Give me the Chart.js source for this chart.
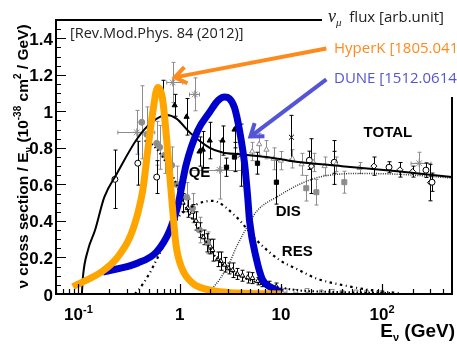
<!DOCTYPE html>
<html>
<head>
<meta charset="utf-8">
<script src="https://cdn.jsdelivr.net/npm/chart.js@4.4.1/dist/chart.umd.min.js"></script>
<style>
  html, body { margin: 0; padding: 0; background: #fff; }
</style>
</head>
<body>
<canvas id="xsec-chart" width="457" height="344"></canvas>
<script>
// axis ranges and ticks
var xMin = 0.06, xMax = 490;
var yMin = 0, yMax = 1.5;
var yTickVals = [0, 0.2, 0.4, 0.6, 0.8, 1, 1.2, 1.4];
var yTickText = ['0', '0.2', '0.4', '0.6', '0.8', '1', '1.2', '1.4'];
var xTickVals = [0.1, 1, 10, 100];
var xTickBase = ['10', '1', '10', '10'];
var xTickExp = ['-1', '', '', '2'];

// theory curves (E in GeV, sigma/E in 1e-38 cm^2/GeV)
var totalE = [0.108, 0.111, 0.124, 0.146, 0.18, 0.24, 0.38, 0.53, 0.74, 0.93, 1.25, 1.98, 2.65, 3.9, 7.2, 12, 40, 150, 490];
var totalY = [0, 0.10, 0.24, 0.35, 0.53, 0.66, 0.85, 0.94, 0.98, 0.96, 0.885, 0.80, 0.775, 0.765, 0.75, 0.73, 0.70, 0.67, 0.64];
var qeE = [0.45, 0.5, 0.64, 0.8, 0.93, 1.07, 1.3, 1.57, 2.21, 3.0, 3.9, 6.1, 10, 15, 30, 60, 120];
var qeY = [0.84, 0.83, 0.77, 0.68, 0.60, 0.51, 0.42, 0.35, 0.21, 0.14, 0.10, 0.06, 0.035, 0.02, 0.012, 0.008, 0.005];
var resE = [0.36, 0.39, 0.5, 0.607, 0.956, 1.41, 2.11, 3.65, 5.74, 9.7, 15.2, 22.4, 44, 93, 150];
var resY = [0, 0.02, 0.11, 0.20, 0.415, 0.486, 0.51, 0.42, 0.295, 0.186, 0.13, 0.085, 0.045, 0.015, 0.005];
var disE = [1.95, 2.48, 3.1, 3.65, 4.9, 5.7, 9.7, 15.2, 24, 59, 150, 490];
var disY = [0.01, 0.08, 0.17, 0.26, 0.39, 0.45, 0.54, 0.60, 0.64, 0.66, 0.655, 0.635];

// flux shapes (arb. units)
var hkE = [0.088, 0.174, 0.24, 0.322, 0.386, 0.432, 0.484, 0.542, 0.607, 0.68, 0.76, 0.845, 0.92, 1.05, 1.34, 1.97, 3.65, 10.3];
var hkY = [0.04, 0.126, 0.197, 0.311, 0.443, 0.568, 0.787, 0.995, 1.131, 1.06, 0.787, 0.486, 0.268, 0.142, 0.06, 0.022, 0.005, 0];
var duneE = [0.174, 0.386, 0.59, 0.80, 0.956, 1.16, 1.51, 1.98, 2.4, 2.78, 3.1, 3.48, 3.9, 4.37, 4.7, 4.9, 5.74, 6.57, 8.2, 10.3];
var duneY = [0.12, 0.17, 0.23, 0.35, 0.48, 0.71, 0.896, 0.996, 1.06, 1.078, 1.07, 1.02, 0.896, 0.716, 0.53, 0.40, 0.19, 0.08, 0.033, 0.01];

// measurements
var grayStarE = [0.377, 0.853, 1.41, 2.48, 232];
var grayStarY = [0.885, 1.158, 1.093, 0.68, 0.716];
var grayStarErr = [0.12, 0.11, 0.09, 0.16, 0.06];
var grayStarLo = [0.245, 0.745, 1.25, 1.3, 193];
var grayStarHi = [0.567, 1.07, 1.57, 4.6, 304];

var grayDotE = [0.422, 0.473, 0.593, 0.635, 0.711, 0.834, 0.934, 1.17, 1.34, 1.57, 1.89];
var grayDotY = [0.94, 0.874, 0.825, 0.803, 0.76, 0.705, 0.60, 0.53, 0.47, 0.35, 0.28];
var grayDotErr = [0.2, 0.15, 0.12, 0.12, 0.1, 0.1, 0.1, 0.08, 0.08, 0.07, 0.06];

var grayTriE = [5.2, 6.1, 7.2, 8.5, 10, 13, 16, 21, 27, 35, 60];
var grayTriY = [0.78, 0.82, 0.79, 0.74, 0.73, 0.74, 0.71, 0.72, 0.70, 0.71, 0.69];
var grayTriErr = [0.05, 0.06, 0.05, 0.06, 0.05, 0.05, 0.06, 0.05, 0.05, 0.04, 0.03];

var graySqE = [17.8, 22.4, 42.3];
var graySqY = [0.579, 0.557, 0.612];
var graySqErr = [0.07, 0.07, 0.06];

var grayLowE = [11, 14, 18, 25, 32, 40, 55, 70, 100];
var grayLowY = [0.02, 0.015, 0.02, 0.012, 0.015, 0.01, 0.012, 0.01, 0.008];
var grayLowErr = [0.01, 0.01, 0.01, 0.008, 0.01, 0.008, 0.008, 0.008, 0.008];

var blackTriE = [0.68, 0.893, 1.17, 1.57, 1.69, 1.98, 2.65, 3.48];
var blackTriY = [1.08, 1.033, 0.97, 0.78, 0.79, 0.84, 0.84, 0.90];
var blackTriErr = [0.09, 0.06, 0.1, 0.08, 0.1, 0.1, 0.08, 0.1];

var openE = [0.229, 0.386, 0.593, 19.1, 33.6, 117, 271, 311];
var openY = [0.628, 0.716, 0.64, 0.732, 0.721, 0.694, 0.678, 0.612];
var openErr = [0.16, 0.12, 0.09, 0.05, 0.06, 0.03, 0.04, 0.05];

var blackSqE = [2.9, 3.48, 5.87, 9.03];
var blackSqY = [0.694, 0.75, 0.716, 0.612];
var blackSqErr = [0.05, 0.08, 0.06, 0.12];

var blackX_E = [3.99, 12.7];
var blackX_Y = [0.76, 0.858];
var blackX_Err = [0.17, 0.12];

var blackDiaE = [20, 33.6, 83, 150, 200, 300];
var blackDiaY = [0.70, 0.72, 0.70, 0.68, 0.67, 0.61];
var blackDiaErr = [0.15, 0.12, 0.05, 0.04, 0.03, 0.1];

var qeDataE = [1.07, 1.2, 1.34, 1.45, 1.57, 1.72, 1.85, 2.0, 2.11, 2.37, 2.55, 2.78, 3.05, 3.33, 3.7, 4.17, 4.7, 5.24, 5.9, 6.57, 7.6, 9.0];
var qeDataY = [0.50, 0.47, 0.45, 0.40, 0.35, 0.31, 0.28, 0.26, 0.24, 0.19, 0.18, 0.16, 0.14, 0.13, 0.11, 0.10, 0.09, 0.087, 0.07, 0.06, 0.05, 0.04];
var qeDataErr = [0.05, 0.05, 0.04, 0.05, 0.04, 0.04, 0.05, 0.04, 0.06, 0.04, 0.05, 0.04, 0.03, 0.04, 0.03, 0.03, 0.03, 0.03, 0.02, 0.02, 0.02, 0.02];

function pts(xs, ys) {
    return xs.map(function (x, i) { return { x: x, y: ys[i] }; });
}

function curve(label, xs, ys, color, width, dash, order) {
    return {
        type: 'line', label: label, data: pts(xs, ys),
        borderColor: color, borderWidth: width, borderDash: dash,
        pointRadius: 0, fill: false, cubicInterpolationMode: 'monotone',
        borderJoinStyle: 'round', order: order
    };
}

function marks(label, xs, ys, err, style, color, fill, radius, lo, hi) {
    return {
        type: 'scatter', label: label, data: pts(xs, ys),
        errY: err, xLo: lo, xHi: hi,
        pointStyle: style, pointRadius: radius, borderColor: color,
        backgroundColor: fill, borderWidth: 1, order: 3
    };
}

// draws text made of pieces (for sub/superscripts)
function drawRich(ctx, parts, x, y, align) {
    var w = 0;
    parts.forEach(function (p) { ctx.font = p.f; w += ctx.measureText(p.t).width; });
    var cx = align === 'center' ? x - w / 2 : (align === 'right' ? x - w : x);
    ctx.textAlign = 'left';
    ctx.textBaseline = 'alphabetic';
    parts.forEach(function (p) {
        ctx.font = p.f;
        ctx.fillText(p.t, cx, y + (p.dy || 0));
        cx += ctx.measureText(p.t).width;
    });
}

function arrow(ctx, x1, y1, x2, y2, color) {
    var ang = Math.atan2(y2 - y1, x2 - x1), L = 14, s = 0.62;
    ctx.save();
    ctx.strokeStyle = color;
    ctx.lineWidth = 4;
    ctx.lineCap = 'butt';
    ctx.lineJoin = 'miter';
    ctx.beginPath();
    ctx.moveTo(x1, y1); ctx.lineTo(x2, y2);
    ctx.stroke();
    ctx.beginPath();
    ctx.moveTo(x2 - L * Math.cos(ang - s), y2 - L * Math.sin(ang - s));
    ctx.lineTo(x2, y2);
    ctx.lineTo(x2 - L * Math.cos(ang + s), y2 - L * Math.sin(ang + s));
    ctx.stroke();
    ctx.restore();
}

var errorBars = {
    id: 'errorBars',
    beforeDatasetsDraw: function (chart) {
        var ctx = chart.ctx, xs = chart.scales.x, ys = chart.scales.y, a = chart.chartArea;
        ctx.save();
        ctx.beginPath();
        ctx.rect(a.left, a.top, a.right - a.left, a.bottom - a.top);
        ctx.clip();
        ctx.lineWidth = 1;
        chart.data.datasets.forEach(function (ds) {
            if (!ds.errY) return;
            ctx.strokeStyle = ds.borderColor;
            ds.data.forEach(function (p, i) {
                var px = Math.round(xs.getPixelForValue(p.x)) + 0.5;
                var py = ys.getPixelForValue(p.y);
                var top = ys.getPixelForValue(p.y + ds.errY[i]);
                var bot = ys.getPixelForValue(Math.max(0, p.y - ds.errY[i]));
                ctx.beginPath();
                ctx.moveTo(px, top); ctx.lineTo(px, bot);
                ctx.moveTo(px - 2, top); ctx.lineTo(px + 2, top);
                ctx.moveTo(px - 2, bot); ctx.lineTo(px + 2, bot);
                if (ds.xLo) {
                    var l = xs.getPixelForValue(ds.xLo[i]), r = xs.getPixelForValue(ds.xHi[i]);
                    var yy = Math.round(py) + 0.5;
                    ctx.moveTo(l, yy); ctx.lineTo(r, yy);
                    ctx.moveTo(l, yy - 2); ctx.lineTo(l, yy + 2);
                    ctx.moveTo(r, yy - 2); ctx.lineTo(r, yy + 2);
                }
                ctx.stroke();
            });
        });
        ctx.restore();
    }
};

var frameAndText = {
    id: 'frameAndText',
    afterDraw: function (chart) {
        var ctx = chart.ctx, xs = chart.scales.x, ys = chart.scales.y, a = chart.chartArea;
        var legLeft = 322, legBottom = 97;
        ctx.save();

        // frame (top-right corner is covered by the legend)
        ctx.strokeStyle = '#000';
        ctx.lineWidth = 2;
        ctx.beginPath();
        ctx.moveTo(legLeft, a.top); ctx.lineTo(a.left, a.top);
        ctx.lineTo(a.left, a.bottom); ctx.lineTo(a.right, a.bottom);
        ctx.lineTo(a.right, legBottom);
        ctx.stroke();

        // ticks, drawn inside the frame
        ctx.lineWidth = 1.2;
        ctx.beginPath();
        for (var v = 0; v <= yMax + 1e-9; v += 0.05) {
            var major = Math.abs(v / 0.2 - Math.round(v / 0.2)) < 1e-6;
            var py = Math.round(ys.getPixelForValue(v)) + 0.5;
            ctx.moveTo(a.left, py); ctx.lineTo(a.left + (major ? 10 : 5), py);
        }
        for (var d = -2; d <= 2; d++) {
            for (var m = 1; m <= 9; m++) {
                var e = m * Math.pow(10, d);
                if (e < xMin || e > xMax) continue;
                var px = Math.round(xs.getPixelForValue(e)) + 0.5;
                ctx.moveTo(px, a.bottom); ctx.lineTo(px, a.bottom - (m === 1 ? 10 : 5));
            }
        }
        ctx.stroke();

        // tick labels
        ctx.fillStyle = '#000';
        var big = 'bold 17px "Liberation Sans", Arial, sans-serif';
        var sup = 'bold 11px "Liberation Sans", Arial, sans-serif';
        yTickVals.forEach(function (v, i) {
            drawRich(ctx, [{ t: yTickText[i], f: big }], 53, ys.getPixelForValue(v) + 6.5, 'right');
        });
        xTickVals.forEach(function (v, i) {
            var parts = [{ t: xTickBase[i], f: big }];
            if (xTickExp[i]) parts.push({ t: xTickExp[i], f: sup, dy: -7 });
            drawRich(ctx, parts, xs.getPixelForValue(v), 319.5, 'center');
        });

        // axis titles
        var tf = 'bold 19px "Liberation Sans", Arial, sans-serif';
        drawRich(ctx, [
            { t: 'E', f: tf },
            { t: 'ν', f: 'bold 11px "Liberation Sans", Arial, sans-serif', dy: 4 },
            { t: ' (GeV)', f: tf }
        ], 455, 337, 'right');

        ctx.save();
        ctx.translate(27.5, 156.5);
        ctx.rotate(-Math.PI / 2);
        var yf = 'bold 15.5px "Liberation Sans", Arial, sans-serif';
        var ys2 = 'bold 10px "Liberation Sans", Arial, sans-serif';
        drawRich(ctx, [
            { t: 'ν cross section / E', f: yf },
            { t: 'ν', f: ys2, dy: 4 },
            { t: ' (10', f: yf },
            { t: '-38', f: ys2, dy: -7 },
            { t: ' cm', f: yf },
            { t: '2', f: ys2, dy: -7 },
            { t: ' / GeV)', f: yf }
        ], 0, 0, 'center');
        ctx.restore();

        // curve labels
        var lf = 'bold 15px "Liberation Sans", Arial, sans-serif';
        ctx.font = lf;
        ctx.textAlign = 'center';
        ctx.textBaseline = 'middle';
        ctx.fillText('TOTAL', xs.getPixelForValue(114), ys.getPixelForValue(0.88));
        ctx.fillText('QE', xs.getPixelForValue(1.57), ys.getPixelForValue(0.665));
        ctx.fillText('DIS', xs.getPixelForValue(11.8), ys.getPixelForValue(0.448));
        ctx.fillText('RES', xs.getPixelForValue(14.5), ys.getPixelForValue(0.23));

        // reference and legend texts
        var sf = '14.5px "Open Sans", "Noto Sans", sans-serif';
        ctx.textAlign = 'left';
        ctx.textBaseline = 'alphabetic';
        ctx.fillStyle = '#222';
        ctx.font = sf;
        ctx.fillText('[Rev.Mod.Phys. 84 (2012)]', 70, 37.5);
        drawRich(ctx, [
            { t: 'ν', f: 'italic 18px "Liberation Serif", serif' },
            { t: 'μ', f: 'italic 11px "Liberation Serif", serif', dy: 4 },
            { t: '  flux [arb.unit]', f: '15px "Open Sans", "Noto Sans", sans-serif' }
        ], 328, 22, 'left');
        ctx.fillStyle = '#ff8a1c';
        ctx.font = '15px "Open Sans", "Noto Sans", sans-serif';
        ctx.fillText('HyperK [1805.04163]', 334, 53);
        ctx.fillStyle = '#5454d6';
        ctx.fillText('DUNE [1512.06148]', 334, 82.5);

        // arrows
        arrow(ctx, xs.getPixelForValue(28.1), ys.getPixelForValue(1.344),
              xs.getPixelForValue(0.893), ys.getPixelForValue(1.186), '#ff8a1c');
        arrow(ctx, xs.getPixelForValue(28.1), ys.getPixelForValue(1.175),
              xs.getPixelForValue(5.0), ys.getPixelForValue(0.862), '#5454d6');
        ctx.restore();
    }
};

var gray = '#8c8c8c';

var ctx = document.getElementById('xsec-chart');
if (ctx != null) {
    var myChart = new Chart(ctx.getContext('2d'), {
        type: 'scatter',
        data: {
            datasets: [
                curve('HyperK flux', hkE, hkY, '#ffa500', 7, [], 0),
                curve('DUNE flux', duneE, duneY, '#0000cd', 7, [], 0),
                curve('TOTAL', totalE, totalY, '#000', 2, [], 1),
                curve('QE', qeE, qeY, '#000', 2, [1.5, 2.5], 2),
                curve('RES', resE, resY, '#000', 2.2, [2.5, 3.5, 1, 3.5], 2),
                curve('DIS', disE, disY, '#333', 1.5, [1, 1.3], 2),
                marks('gray stars', grayStarE, grayStarY, grayStarErr, 'star', gray, gray, 4, grayStarLo, grayStarHi),
                marks('gray dots', grayDotE, grayDotY, grayDotErr, 'circle', gray, gray, 3),
                marks('gray triangles', grayTriE, grayTriY, grayTriErr, 'triangle', gray, '#fff', 3),
                marks('gray squares', graySqE, graySqY, graySqErr, 'rect', gray, gray, 3.5),
                marks('gray low', grayLowE, grayLowY, grayLowErr, 'rect', gray, '#fff', 2.5),
                marks('black triangles', blackTriE, blackTriY, blackTriErr, 'triangle', '#000', '#000', 3),
                marks('open circles', openE, openY, openErr, 'circle', '#000', '#fff', 3),
                marks('black squares', blackSqE, blackSqY, blackSqErr, 'rect', '#000', '#000', 3),
                marks('black crosses', blackX_E, blackX_Y, blackX_Err, 'crossRot', '#000', '#000', 3.5),
                marks('black diamonds', blackDiaE, blackDiaY, blackDiaErr, 'rectRot', '#000', '#fff', 3),
                marks('QE data', qeDataE, qeDataY, qeDataErr, 'triangle', '#000', '#fff', 2.8)
            ]
        },
        options: {
            responsive: false,
            animation: false,
            devicePixelRatio: 1,
            layout: { padding: { top: 20, right: 4, left: 0, bottom: 0 } },
            plugins: { legend: { display: false }, tooltip: { enabled: false } },
            scales: {
                x: {
                    type: 'logarithmic', min: xMin, max: xMax, bounds: 'data',
                    ticks: { display: false }, grid: { display: false }, border: { display: false },
                    afterFit: function (s) { s.height = 50; }
                },
                y: {
                    type: 'linear', min: yMin, max: yMax,
                    ticks: { display: false }, grid: { display: false }, border: { display: false },
                    afterFit: function (s) { s.width = 56; }
                }
            }
        },
        plugins: [errorBars, frameAndText]
    });
}
</script>
</body>
</html>
